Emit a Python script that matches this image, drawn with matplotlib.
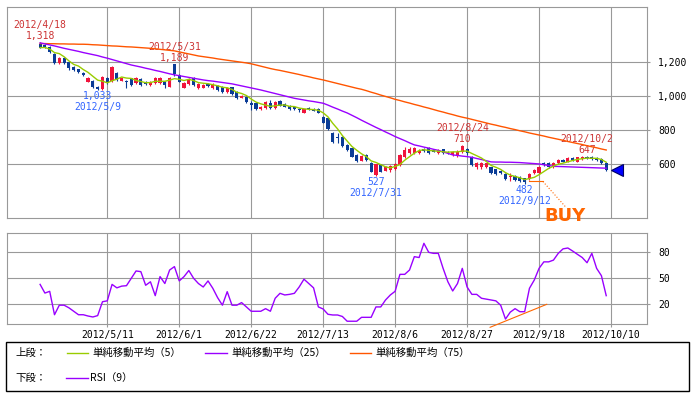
import matplotlib
matplotlib.use("Agg")
import matplotlib.pyplot as plt
from matplotlib.patches import Rectangle
from matplotlib.lines import Line2D
import pandas as pd

# 日足 (2012/4/18 - 2012/10/9)
opens = [1305, 1300, 1290, 1247, 1192, 1225, 1200, 1168, 1157, 1137,
         1084, 1088, 1055, 1040, 1104, 1086, 1133, 1090, 1088, 1104,
         1074, 1100, 1084, 1065, 1074, 1074, 1084, 1055, 1186, 1123,
         1049, 1069, 1104, 1045, 1049, 1070, 1045, 1061, 1055, 1022,
         1050, 1025, 988, 996, 957, 960, 924, 928, 957, 928,
         973, 953, 941, 937, 922, 902, 928, 922, 922, 878,
         868, 784, 761, 761, 712, 692, 653, 620, 653, 608,
         535, 594, 561, 565, 570, 594, 639, 663, 663, 663,
         688, 692, 682, 663, 686, 673, 653, 650, 673, 690,
         643, 584, 584, 580, 580, 569, 561, 541, 522, 530,
         522, 516, 510, 545, 545, 604, 604, 584, 604, 623,
         614, 633, 614, 627, 643, 643, 633, 627, 608]
highs = [1318, 1305, 1295, 1250, 1228, 1230, 1205, 1175, 1160, 1140,
         1112, 1092, 1060, 1120, 1110, 1175, 1140, 1108, 1095, 1108,
         1112, 1105, 1090, 1090, 1110, 1112, 1090, 1110, 1189, 1128,
         1080, 1105, 1110, 1075, 1070, 1078, 1075, 1065, 1060, 1055,
         1055, 1030, 1005, 1000, 970, 965, 940, 968, 977, 968,
         978, 958, 945, 940, 928, 925, 937, 928, 928, 882,
         872, 788, 780, 765, 716, 696, 657, 651, 657, 612,
         602, 600, 590, 596, 605, 657, 700, 698, 700, 690,
         692, 700, 688, 688, 690, 678, 678, 680, 710, 695,
         648, 612, 612, 608, 584, 573, 566, 545, 545, 535,
         530, 520, 545, 570, 590, 612, 610, 614, 630, 630,
         638, 640, 643, 645, 647, 645, 640, 633, 614]
lows = [1280, 1280, 1250, 1188, 1190, 1188, 1155, 1145, 1135, 1115,
        1080, 1045, 1033, 1036, 1070, 1080, 1090, 1086, 1045, 1060,
        1070, 1060, 1064, 1060, 1070, 1070, 1045, 1050, 1120, 1080,
        1045, 1065, 1060, 1040, 1045, 1055, 1040, 1030, 1020, 1018,
        1006, 980, 985, 960, 918, 920, 920, 925, 924, 924,
        940, 933, 918, 918, 904, 900, 918, 910, 898, 838,
        800, 725, 722, 700, 678, 638, 614, 616, 620, 550,
        527, 550, 557, 555, 565, 590, 635, 658, 658, 660,
        672, 658, 668, 660, 658, 658, 648, 640, 665, 655,
        590, 568, 570, 576, 540, 537, 540, 505, 497, 500,
        495, 482, 505, 540, 540, 588, 578, 578, 600, 610,
        610, 618, 610, 622, 628, 622, 618, 600, 560]
closes = [1284, 1286, 1257, 1192, 1225, 1192, 1165, 1153, 1143, 1123,
          1108, 1050, 1040, 1112, 1076, 1168, 1096, 1104, 1081, 1066,
          1108, 1065, 1069, 1084, 1104, 1108, 1065, 1104, 1127, 1084,
          1074, 1100, 1065, 1069, 1065, 1061, 1069, 1035, 1025, 1049,
          1012, 986, 1000, 965, 945, 924, 933, 963, 928, 963,
          943, 937, 922, 922, 918, 922, 922, 914, 902, 843,
          804, 731, 751, 706, 682, 643, 620, 647, 624, 555,
          598, 555, 584, 590, 600, 653, 682, 688, 692, 678,
          678, 663, 672, 682, 663, 665, 673, 672, 705, 663,
          594, 608, 604, 604, 545, 541, 545, 510, 530, 506,
          502, 492, 541, 565, 584, 594, 584, 608, 623, 614,
          633, 623, 640, 643, 633, 627, 623, 604, 563]

# 単純移動平均 (25), (75)
ma25 = [1312, 1306, 1300, 1294, 1287, 1280, 1274, 1268, 1262, 1255,
        1249, 1243, 1237, 1229, 1222, 1214, 1206, 1198, 1190, 1182,
        1176, 1170, 1163, 1157, 1150, 1144, 1137, 1130, 1124, 1119,
        1114, 1109, 1104, 1099, 1094, 1090, 1087, 1083, 1079, 1075,
        1071, 1065, 1059, 1053, 1047, 1041, 1035, 1028, 1021, 1014,
        1007, 1000, 993, 986, 981, 976, 971, 967, 962, 957,
        946, 934, 923, 911, 900, 886, 872, 857, 843, 829,
        815, 802, 788, 775, 761, 749, 737, 724, 712, 706,
        699, 693, 686, 680, 671, 662, 653, 650, 646, 643,
        639, 632, 626, 619, 612, 611, 611, 610, 610, 609,
        608, 606, 604, 602, 600, 595, 591, 586, 585, 584,
        583, 582, 581, 580, 579, 578, 577, 576, 575]
ma75 = [1308, 1308, 1307, 1307, 1306, 1306, 1305, 1305, 1304, 1304,
        1303, 1301, 1300, 1298, 1296, 1294, 1293, 1291, 1289, 1288,
        1286, 1284, 1282, 1280, 1277, 1274, 1271, 1268, 1265, 1259,
        1253, 1247, 1241, 1235, 1231, 1227, 1223, 1218, 1214, 1210,
        1206, 1202, 1198, 1194, 1189, 1182, 1175, 1168, 1161, 1155,
        1150, 1144, 1138, 1132, 1126, 1119, 1113, 1106, 1100, 1094,
        1087, 1080, 1073, 1066, 1059, 1052, 1045, 1039, 1031, 1022,
        1014, 1005, 997, 989, 980, 973, 965, 958, 950, 943,
        935, 928, 920, 912, 905, 897, 890, 882, 875, 869,
        862, 855, 848, 841, 834, 828, 821, 815, 808, 802,
        795, 789, 782, 776, 770, 764, 757, 751, 745, 739,
        732, 726, 720, 714, 707, 701, 695, 688, 682]

# RSI (9)
rsi9 = [43, 33, 35, 8, 19, 19, 16, 12, 8, 8,
        6.5, 5.4, 7, 23, 24, 43, 39, 41, 41.5, 50,
        58.5, 57.7, 42, 46, 30, 52, 44, 59.6, 63.5, 47,
        52, 59, 50, 44, 40, 47, 38.5, 27.7, 19, 34.6,
        19, 19, 22, 17, 12, 12, 12, 15, 12, 27,
        32.7, 30.8, 31.5, 32.7, 40, 49, 44, 39, 17, 14.6,
        8.5, 7.7, 7.7, 6, 0.5, 0.5, 0.5, 5, 5, 5,
        17, 17, 25, 30.8, 35, 54.6, 54.6, 59.6, 75, 74,
        90.4, 80, 78.8, 78.8, 61.5, 46, 35.4, 44, 61.5, 40,
        31.5, 31.5, 27, 26, 25, 24, 19, 3, 11, 15,
        11.5, 11.5, 38.5, 48, 61.5, 69, 69, 71, 78.8, 84,
        85, 81.5, 77.7, 74, 68, 78.8, 61.5, 53, 30]

tick_pos = [14, 29, 44, 59, 74, 89, 104, 119]
tick_labels = ["2012/5/11", "2012/6/1", "2012/6/22", "2012/7/13",
               "2012/8/6", "2012/8/27", "2012/9/18", "2012/10/10"]

# 高値・安値の注記
high_idx = [0, 28, 88, 114]
high_dates = ["2012/4/18", "2012/5/31", "2012/8/24", "2012/10/2"]
low_idx = [12, 70, 101]
low_dates = ["2012/5/9", "2012/7/31", "2012/9/12"]

# RSIの補助線
rsi_line_x = [93.8, 105.6]
rsi_line_y = [-6.5, 20]

W, H = 696, 395
MONO = "DejaVu Sans Mono"
JP = ["Noto Sans CJK JP", "DejaVu Sans"]
GRID = "#999999"
UP = "#F0143C"
DOWN = "#0A3C96"
C5 = "#99CC00"
C25 = "#9900FF"
C75 = "#FF5500"
LABEL_RED = "#CC3333"
LABEL_BLUE = "#3366FF"

n = len(closes)
x = list(range(n))
ma5 = pd.Series(closes).rolling(5, min_periods=1).mean()

fig = plt.figure(figsize=(W / 100, H / 100), dpi=100)
ax1 = fig.add_axes([7 / W, 1 - 218 / H, 640 / W, 211 / H])
ax2 = fig.add_axes([7 / W, 1 - 324 / H, 640 / W, 91 / H])

for ax in (ax1, ax2):
    ax.set_xlim(-6.9, 126.5)
    ax.set_xticks(tick_pos)
    ax.grid(color=GRID, lw=0.8)
    ax.set_axisbelow(True)
    ax.yaxis.tick_right()
    ax.tick_params(axis="both", length=2, color=GRID, labelsize=7, pad=6)
    for s in ax.spines.values():
        s.set_color(GRID)
        s.set_linewidth(0.8)

# 上段: ローソク足と移動平均
ax1.set_ylim(282, 1523)
ax1.set_yticks([600, 800, 1000, 1200])
ax1.set_yticklabels([f"{v:,}" for v in [600, 800, 1000, 1200]], family=MONO)
ax1.set_xticklabels([])
ax1.tick_params(axis="x", length=0)

for i in x:
    col = UP if closes[i] >= opens[i] else DOWN
    ax1.vlines(i, lows[i], highs[i], color=col, lw=0.8, zorder=3)
    bottom = min(opens[i], closes[i])
    height = max(abs(closes[i] - opens[i]), 6)
    ax1.bar(i, height, bottom=bottom, width=0.66, color=col, lw=0, zorder=3)

ax1.plot(x, ma75, color=C75, lw=1.0, zorder=4)
ax1.plot(x, ma25, color=C25, lw=1.0, zorder=4)
ax1.plot(x, ma5, color=C5, lw=1.0, zorder=4)

for i, d in zip(high_idx, high_dates):
    ax1.annotate(f"{highs[i]:,}", (i, highs[i]), xytext=(0, 6), textcoords="offset pixels",
                 ha="center", va="center", fontsize=7, family=MONO, color=LABEL_RED)
    ax1.annotate(d, (i, highs[i]), xytext=(0, 17), textcoords="offset pixels",
                 ha="center", va="center", fontsize=7, family=MONO, color=LABEL_RED)
for i, d in zip(low_idx, low_dates):
    ax1.annotate(f"{lows[i]:,}", (i, lows[i]), xytext=(0, -6), textcoords="offset pixels",
                 ha="center", va="center", fontsize=7, family=MONO, color=LABEL_BLUE)
    ax1.annotate(d, (i, lows[i]), xytext=(0, -17), textcoords="offset pixels",
                 ha="center", va="center", fontsize=7, family=MONO, color=LABEL_BLUE)

# 最新値マーカー
ax1.plot(n + 1.2, closes[-1], marker="<", ms=9, color="#0000FF", mec="#000066", mew=0.8,
         clip_on=False, zorder=6)

# BUYサイン
buy_price = 497
ax1.plot([102, 104.8], [buy_price, buy_price], color="#FF6600", lw=0.8, zorder=5)
ax1.plot([104.8, 109.6], [buy_price, 345], color="#FF6600", lw=0.8, ls=":", zorder=5)
ax1.text(109.4, 295, "BUY", ha="center", va="center", fontsize=13, fontweight="bold",
         color="#FF6600", clip_on=False, zorder=7)

# 下段: RSI
ax2.set_ylim(-2.7, 102.3)
ax2.set_yticks([20, 50, 80])
ax2.set_yticklabels(["20", "50", "80"], family=MONO)
ax2.set_xticklabels(tick_labels, family=MONO)
ax2.tick_params(axis="x", pad=2)
ax2.plot(x, rsi9, color=C25, lw=1.0, zorder=4)
ax2.plot(rsi_line_x, rsi_line_y, color="#FF6600", lw=0.8, clip_on=False, zorder=5)

# 凡例
fig.patches.append(Rectangle((6 / W, 1 - 391 / H), 683 / W, 49 / H, transform=fig.transFigure,
                             fill=False, ec="black", lw=1))
row1 = 1 - 353 / H
row2 = 1 - 378 / H
fig.text(15 / W, row1, "上段：", family=JP, fontsize=7.5, va="center")
fig.text(15 / W, row2, "下段：", family=JP, fontsize=7.5, va="center")
legend_items = [(67, 88, 92, C5, "単純移動平均（5）", row1),
                (205, 227, 231, C25, "単純移動平均（25）", row1),
                (350, 371, 375, C75, "単純移動平均（75）", row1),
                (66, 88, 90, C25, "RSI（9）", row2)]
for x0, x1, xt, col, txt, yy in legend_items:
    fig.lines.append(Line2D([x0 / W, x1 / W], [yy, yy], transform=fig.transFigure, color=col, lw=1))
    fig.text(xt / W, yy, txt, family=JP, fontsize=7.5, va="center")

fig.savefig("out.png", dpi=100)
